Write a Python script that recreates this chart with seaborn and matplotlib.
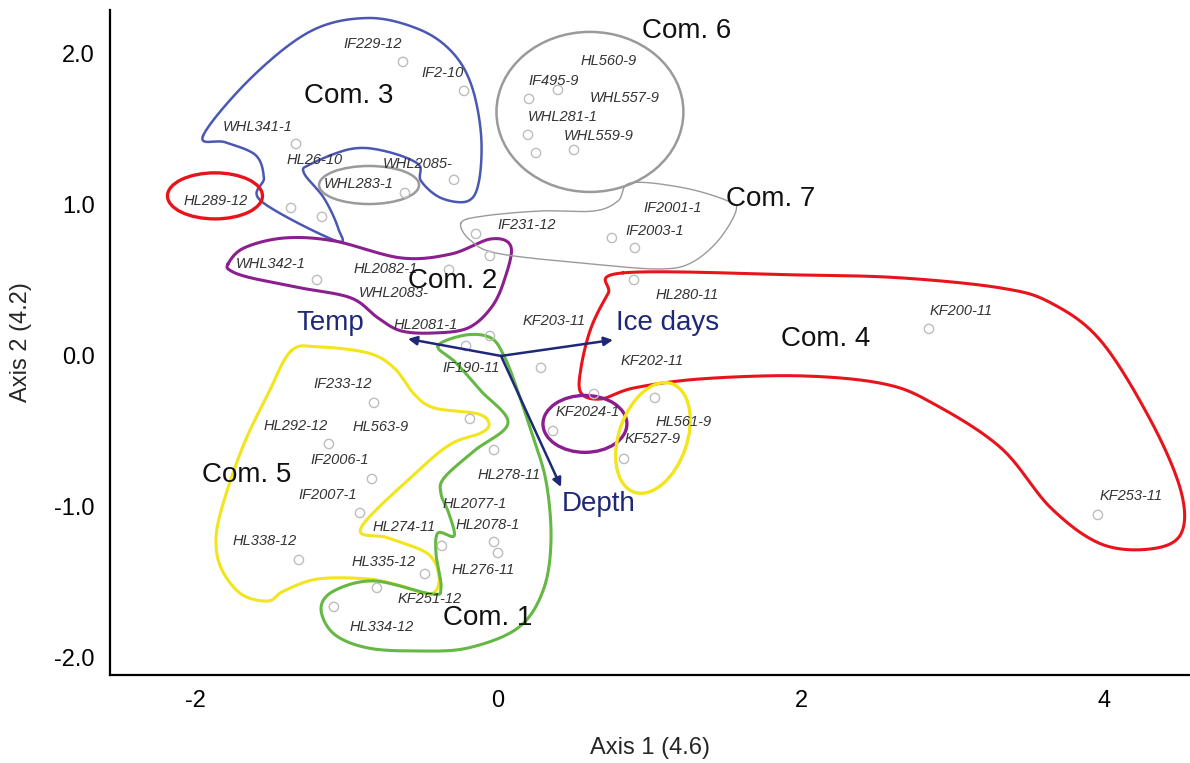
import numpy as np
import matplotlib
matplotlib.use("Agg")
import matplotlib.pyplot as plt
from matplotlib.patches import Ellipse
import seaborn as sns

# ---------------- data: ordination scores of sites ----------------
axis1 = [-0.627, -0.224, -1.333, -0.290, -0.614, -1.366, -1.162, 0.205, 0.396, 0.198,
         0.251, 0.502, -0.145, -0.053, 0.752, 0.904, -1.195, -0.323, -0.053, -0.211,
         0.284, -0.818, -0.185, -1.116, -0.026, -0.832, -0.911, -0.370, -0.026, 0.000,
         -1.314, -0.482, -0.799, -1.083, 0.898, 0.634, 1.036, 0.363, 0.832, 2.845, 3.960]
axis2 = [1.947, 1.755, 1.404, 1.166, 1.079, 0.980, 0.921, 1.702, 1.762, 1.464,
         1.344, 1.364, 0.808, 0.662, 0.781, 0.715, 0.503, 0.570, 0.132, 0.066,
         -0.079, -0.311, -0.417, -0.583, -0.623, -0.815, -1.040, -1.258, -1.232, -1.305,
         -1.351, -1.444, -1.536, -1.662, 0.503, -0.252, -0.278, -0.497, -0.682, 0.179, -1.053]

# site labels and where they are written
site_labels = ["IF229-12", "IF2-10", "WHL341-1", "HL26-10", "WHL2085-", "WHL283-1", "HL289-12",
               "HL560-9", "IF495-9", "WHL557-9", "WHL281-1", "WHL559-9", "IF2001-1", "IF2003-1",
               "IF231-12", "WHL342-1", "HL2082-1", "WHL2083-", "HL2081-1", "IF190-11", "KF203-11",
               "HL280-11", "KF202-11", "KF2024-1", "HL561-9", "KF527-9", "IF233-12", "HL292-12",
               "HL563-9", "IF2006-1", "IF2007-1", "HL278-11", "HL2077-1", "HL2078-1", "HL274-11",
               "HL338-12", "HL335-12", "HL276-11", "KF251-12", "HL334-12", "KF200-11", "KF253-11"]
site_label_x = [-0.825, -0.363, -1.584, -1.208, -0.528, -0.917, -1.861,
                0.733, 0.370, 0.838, 0.429, 0.667, 1.155, 1.036,
                0.191, -1.498, -0.739, -0.686, -0.475, -0.178, 0.370,
                1.248, 1.017, 0.594, 1.228, 1.023, -1.023, -1.333,
                -0.772, -1.043, -1.122, 0.073, -0.152, -0.066, -0.620,
                -1.538, -0.752, -0.099, -0.449, -0.766, 3.056, 4.178]
site_label_y = [2.066, 1.874, 1.517, 1.298, 1.272, 1.139, 1.026,
                1.954, 1.821, 1.709, 1.583, 1.457, 0.980, 0.828,
                0.868, 0.609, 0.576, 0.417, 0.205, -0.079, 0.232,
                0.404, -0.033, -0.371, -0.437, -0.550, -0.185, -0.464,
                -0.470, -0.689, -0.921, -0.788, -0.980, -1.119, -1.132,
                -1.225, -1.364, -1.417, -1.609, -1.795, 0.298, -0.927]

# community names and positions
com_names = ["Com. 1", "Com. 2", "Com. 3", "Com. 4", "Com. 5", "Com. 6", "Com. 7"]
com_x = [-0.066, -0.297, -0.983, 2.165, -1.657, 1.248, 1.802]
com_y = [-1.735, 0.497, 1.722, 0.113, -0.788, 2.152, 1.040]

# environmental vectors
env_names = ["Temp", "Ice days", "Depth"]
env_x = [-0.594, 0.759, 0.416]
env_y = [0.113, 0.106, -0.868]
env_origin = (0.02, 0.0)
env_label_x = [-1.109, 1.122, 0.667]
env_label_y = [0.219, 0.219, -0.980]

# community outlines (vertices of hand-drawn hulls)
com1_x = [-0.396, -0.211, -0.046, 0.040, 0.119, 0.218, 0.317, 0.350, 0.297, 0.132, -0.198, -0.528,
          -0.858, -1.083, -1.168, -1.083, -0.818, -0.442, -0.376, -0.409, -0.396, -0.290, -0.323,
          -0.376, -0.356, -0.158, 0.066, -0.112, -0.277]
com1_y = [0.066, 0.139, 0.119, 0.000, -0.199, -0.497, -0.828, -1.225, -1.556, -1.801, -1.934, -1.954,
          -1.934, -1.841, -1.675, -1.556, -1.490, -1.576, -1.536, -1.311, -1.172, -1.192, -1.046,
          -0.914, -0.808, -0.629, -0.444, -0.232, -0.046]
com2_x = [-1.782, -1.677, -1.413, -1.083, -0.640, -0.310, -0.046, 0.086, 0.040, -0.046, -0.198,
          -0.422, -0.640, -0.792, -0.970, -1.300, -1.630, -1.762]
com2_y = [0.609, 0.715, 0.781, 0.762, 0.649, 0.675, 0.775, 0.722, 0.497, 0.318, 0.185,
          0.152, 0.166, 0.252, 0.384, 0.450, 0.517, 0.563]
com3_x = [-1.947, -1.630, -1.234, -0.858, -0.528, -0.310, -0.178, -0.112, -0.125, -0.198, -0.376,
          -0.508, -0.528, -0.752, -0.970, -1.234, -1.281, -1.149, -1.056, -1.069, -1.564, -1.545,
          -1.600, -1.800]
com3_y = [1.457, 1.841, 2.152, 2.238, 2.166, 2.020, 1.801, 1.470, 1.159, 1.026, 1.046,
          1.159, 1.272, 1.358, 1.371, 1.272, 1.212, 1.046, 0.848, 0.762, 1.026, 1.180,
          1.330, 1.415]
com4_x = [0.825, 2.000, 2.660, 3.320, 3.650, 3.980, 4.310, 4.508, 4.508, 4.310, 3.980, 3.650,
          3.320, 2.878, 2.548, 2.000, 1.340, 0.898, 0.680, 0.548, 0.548, 0.614, 0.726]
com4_y = [0.550, 0.536, 0.517, 0.450, 0.351, 0.099, -0.430, -0.894, -1.179, -1.278, -1.245, -1.007,
          -0.609, -0.318, -0.185, -0.132, -0.152, -0.212, -0.285, -0.245, -0.079, 0.185, 0.411]
com5_x = [-1.366, -1.188, -0.858, -0.686, -0.554, -0.422, -0.132, -0.059, -0.112, -0.310, -0.528,
          -0.904, -0.726, -0.462, -0.389, -0.442, -0.640, -0.858, -1.188, -1.413, -1.518, -1.696,
          -1.828, -1.861, -1.809, -1.677, -1.518]
com5_y = [0.033, 0.060, 0.020, -0.079, -0.252, -0.344, -0.384, -0.450, -0.510, -0.583, -0.762,
          -1.139, -1.205, -1.311, -1.470, -1.576, -1.523, -1.477, -1.477, -1.556, -1.623, -1.576,
          -1.404, -1.205, -0.960, -0.583, -0.252]
com7_x = [-0.244, -0.092, 0.284, 0.634, 0.792, 0.878, 1.228, 1.518, 1.571, 1.452, 1.274, 1.076,
          0.680, 0.020, -0.178]
com7_y = [0.881, 0.927, 0.960, 0.960, 1.026, 1.146, 1.113, 1.026, 0.960, 0.762, 0.616, 0.576,
          0.603, 0.675, 0.762]

# elliptical outlines: centre x, centre y, width, height, angle
ellipse_cx = [-0.851, -1.868, 0.607, 0.574, 1.023]
ellipse_cy = [1.132, 1.060, 1.616, -0.450, -0.543]
ellipse_w = [0.660, 0.627, 1.234, 0.554, 0.76]
ellipse_h = [0.252, 0.305, 1.060, 0.377, 0.45]
ellipse_angle = [0, 0, 0, 0, 71]

# ---------------- style ----------------
sns.set_style("white")
plt.rcParams["font.family"] = ["Liberation Sans", "DejaVu Sans"]

C_BLUE = "#4a58b4"
C_RED = "#e8141c"
C_PURPLE = "#8c1f8f"
C_YELLOW = "#f2e51c"
C_GREEN = "#64b843"
C_GRAY = "#9a9a9a"
C_NAVY = "#1f2878"

fig = plt.figure(figsize=(11.9, 7.63), dpi=100)
ax = fig.add_axes([110 / 1190, 1 - 675 / 763, 1080 / 1190, 665 / 763])


def closed_spline(xs, ys, n=24):
    p = np.column_stack([xs, ys])
    m = len(p)
    out = []
    t = np.linspace(0, 1, n, endpoint=False)[:, None]
    for i in range(m):
        p0, p1, p2, p3 = p[(i - 1) % m], p[i], p[(i + 1) % m], p[(i + 2) % m]
        seg = 0.5 * ((2 * p1) + (-p0 + p2) * t + (2 * p0 - 5 * p1 + 4 * p2 - p3) * t ** 2
                     + (-p0 + 3 * p1 - 3 * p2 + p3) * t ** 3)
        out.append(seg)
    out = np.vstack(out + [p[:1]])
    return out[:, 0], out[:, 1]


hulls = [(com3_x, com3_y, C_BLUE, 1.8), (com2_x, com2_y, C_PURPLE, 2.2),
         (com5_x, com5_y, C_YELLOW, 2.2), (com1_x, com1_y, C_GREEN, 2.2),
         (com4_x, com4_y, C_RED, 2.2), (com7_x, com7_y, C_GRAY, 1.0)]
for hx, hy, col, lw in hulls:
    sx, sy = closed_spline(hx, hy)
    ax.plot(sx, sy, color=col, lw=lw, zorder=2, solid_joinstyle="round")

ell_colors = [C_GRAY, C_RED, C_GRAY, C_PURPLE, C_YELLOW]
ell_lw = [1.8, 2.4, 1.8, 2.4, 2.4]
for cx, cy, w, h, a, col, lw in zip(ellipse_cx, ellipse_cy, ellipse_w, ellipse_h,
                                    ellipse_angle, ell_colors, ell_lw):
    ax.add_patch(Ellipse((cx, cy), w, h, angle=a, fill=False, edgecolor=col, lw=lw, zorder=2))

# sample points
sns.scatterplot(x=axis1, y=axis2, ax=ax, marker="o", s=45, facecolor="none",
                edgecolor="#bdbdbd", linewidth=1.0, zorder=3, legend=False)

# environmental vectors
for ex, ey, name, lx, ly in zip(env_x, env_y, env_names, env_label_x, env_label_y):
    ax.annotate("", xy=(ex, ey), xytext=env_origin,
                arrowprops=dict(arrowstyle="-|>", color=C_NAVY, lw=1.8,
                                mutation_scale=13, shrinkA=0, shrinkB=0), zorder=4)
    ax.text(lx, ly, name, color=C_NAVY, fontsize=20, ha="center", va="center", zorder=5)

# site labels
for lab, lx, ly in zip(site_labels, site_label_x, site_label_y):
    ax.text(lx, ly, lab, fontsize=10.5, style="italic", color="#333333",
            ha="center", va="center", zorder=5)

# community names
for name, cx, cy in zip(com_names, com_x, com_y):
    ax.text(cx, cy, name, fontsize=20, color="#111111", ha="center", va="center", zorder=5)

# axes
ax.set_xlim(-2.561, 4.568)
ax.set_ylim(-2.113, 2.291)
ax.set_xticks([-2, -1, 0, 1, 2, 3, 4])
ax.set_xticklabels(["-2", "", "0", "", "2", "", "4"])
ax.set_yticks([-2, -1.5, -1, -0.5, 0, 0.5, 1, 1.5, 2])
ax.set_yticklabels(["-2.0", "", "-1.0", "", "0.0", "", "1.0", "", "2.0"])
ax.tick_params(direction="inout", length=12, width=1.3, labelsize=17, colors="black",
               pad=5)
for side in ["top", "right"]:
    ax.spines[side].set_visible(False)
for side in ["left", "bottom"]:
    ax.spines[side].set_linewidth(1.6)
    ax.spines[side].set_color("black")
ax.set_xlabel("Axis 1 (4.6)", fontsize=17, labelpad=18)
ax.set_ylabel("Axis 2 (4.2)", fontsize=17, labelpad=16)
ax.set_facecolor("white")

fig.savefig("out.png", dpi=100, facecolor="white")
